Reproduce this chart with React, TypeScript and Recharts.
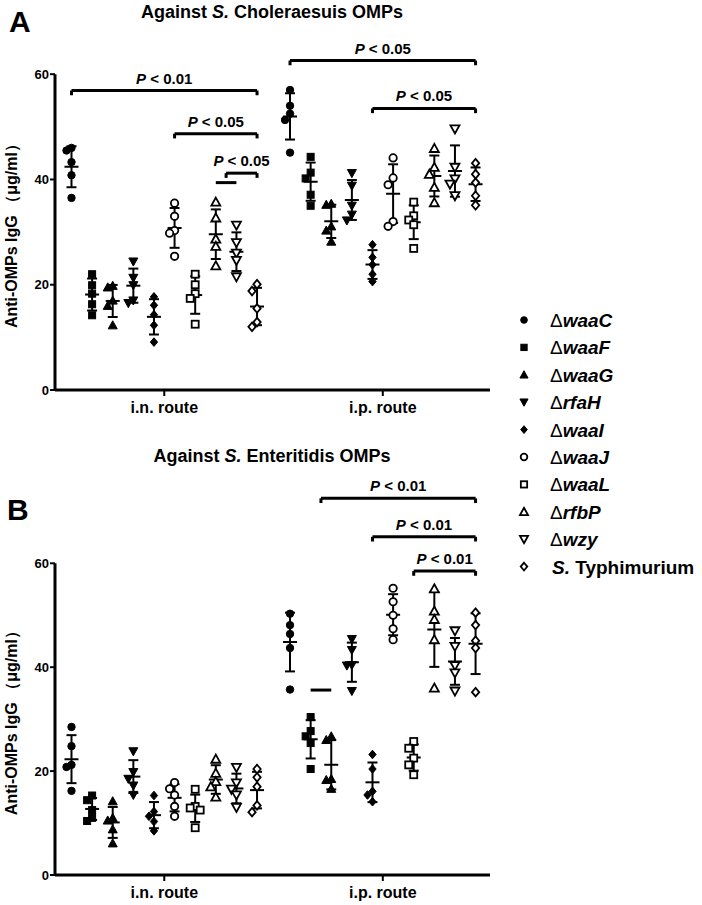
import React from "react";
import { ScatterChart, Scatter, XAxis, YAxis, ErrorBar, ReferenceLine } from "recharts";

const FONT = '"Liberation Sans", Arial, Helvetica, sans-serif';

const strains = ["waaC", "waaF", "waaG", "rfaH", "waaI", "waaJ", "waaL", "rfbP", "wzy", "Typhimurium"];
const routes = ["i.n. route", "i.p. route"];
const serovars = ["Choleraesuis", "Enteritidis"];

// A: anti-OMPs IgG against S. Choleraesuis OMPs (ug/ml), 5 mice per group
const cholIn = [
  [46.0, 45.5, 43.3, 40.8, 36.5],
  [22.0, 19.9, 18.3, 16.3, 14.2],
  [19.8, 19.5, 17.0, 16.0, 12.3],
  [24.4, 21.3, 19.9, 17.0, 16.5],
  [17.7, 16.1, 14.3, 12.3, 9.1],
  [35.5, 33.0, 30.3, 29.8, 25.4],
  [22.0, 20.0, 18.3, 17.4, 12.5],
  [35.7, 32.7, 28.7, 27.3, 23.6],
  [31.3, 28.0, 26.0, 24.6, 21.5],
  [20.1, 18.8, 15.5, 12.9, 12.0],
];
const cholIp = [
  [57.0, 54.0, 52.5, 51.3, 45.1],
  [44.3, 41.3, 40.2, 37.1, 35.0],
  [35.4, 35.2, 31.1, 30.3, 28.2],
  [41.2, 38.8, 35.0, 33.3, 32.2],
  [27.6, 25.2, 23.8, 22.0, 20.6],
  [44.1, 40.3, 39.0, 32.0, 31.1],
  [35.7, 33.1, 32.3, 31.4, 26.9],
  [45.9, 42.3, 41.0, 38.5, 35.6],
  [49.6, 42.3, 40.1, 39.1, 36.9],
  [43.1, 41.0, 39.4, 36.9, 35.1],
];

// B: against S. Enteritidis OMPs
const enterIn = [
  [28.5, 24.8, 21.2, 20.8, 16.2],
  [15.3, 14.4, 12.5, 11.0, 10.4],
  [14.2, 11.0, 10.5, 8.8, 6.1],
  [23.8, 19.8, 18.5, 17.2, 15.4],
  [15.3, 12.2, 11.3, 10.3, 8.5],
  [17.8, 16.6, 15.4, 13.2, 11.3],
  [16.5, 13.2, 12.9, 12.5, 9.1],
  [22.3, 19.6, 18.0, 17.0, 15.0],
  [20.7, 17.7, 16.5, 15.4, 13.0],
  [20.4, 18.8, 17.0, 13.4, 12.1],
];
const enterIp = [
  [50.3, 48.1, 46.4, 43.7, 35.7],
  [30.4, 27.7, 26.7, 25.4, 20.4],
  [26.7, 26.0, 18.5, 18.3, 16.6],
  [45.4, 43.3, 40.4, 40.3, 35.4],
  [23.2, 20.4, 16.1, 15.4, 14.1],
  [55.2, 52.6, 50.0, 47.4, 45.3],
  [25.7, 24.4, 22.5, 21.2, 19.3],
  [55.1, 50.8, 49.2, 45.3, 36.0],
  [47.0, 44.0, 40.3, 38.9, 35.4],
  [50.5, 48.1, 45.1, 43.7, 35.2],
];

// significance brackets: group index from/to within a route, height in ug/ml
const cholBrackets = [
  { route: 0, from: 0, to: 9, y: 56.9, p: "0.01" },
  { route: 0, from: 5, to: 9, y: 48.7, p: "0.05" },
  { route: 0, from: 7.5, to: 9, y: 41.2, p: "0.05" },
  { route: 1, from: 0, to: 9, y: 62.6, p: "0.05" },
  { route: 1, from: 4, to: 9, y: 53.5, p: "0.05" },
];
const cholBars = [{ route: 0, from: 7, to: 8, y: 39.4 }];
const enterBrackets = [
  { route: 1, from: 1.5, to: 9, y: 72.5, p: "0.01" },
  { route: 1, from: 4, to: 9, y: 65.1, p: "0.01" },
  { route: 1, from: 6, to: 9, y: 58.5, p: "0.01" },
];
const enterBars = [{ route: 1, from: 1, to: 2, y: 35.6 }];

const kinds = ["circle", "square", "up", "down", "diamond"];

const xPos = (route: number, i: number) => (route === 0 ? 1 : 11.6) + i;
const mean = (a: number[]) => a.reduce((s, v) => s + v, 0) / a.length;
const sdev = (a: number[]) => {
  const m = mean(a);
  return Math.sqrt(a.reduce((s, v) => s + (v - m) ** 2, 0) / (a.length - 1));
};

// push overlapping points sideways, like a dot plot does
function spreadOffsets(vals: number[]) {
  const order = vals.map((_, i) => i).sort((a, b) => vals[b] - vals[a]);
  const offs = vals.map(() => 0);
  const placed: { y: number; o: number }[] = [];
  order.forEach((i) => {
    const y = vals[i] * 5.2;
    const o =
      [0, -5, 5, -9, 9].find((c) =>
        placed.every((p) => Math.abs(p.o - c) >= 5 || Math.abs(p.y - y) >= 7)
      ) ?? 0;
    offs[i] = o;
    placed.push({ y, o });
  });
  return offs;
}

function Marker({ kind, filled, cx, cy, scale = 1 }: any) {
  const common = { fill: filled ? "#000" : "#fff", stroke: "#000", strokeWidth: filled ? 1 : 1.8 };
  const k = scale;
  if (kind === "circle") return <circle cx={cx} cy={cy} r={3.7 * k} {...common} />;
  if (kind === "square") {
    const h = 3.5 * k;
    return <rect x={cx - h} y={cy - h} width={2 * h} height={2 * h} {...common} />;
  }
  if (kind === "up") {
    const h = 4.5 * k;
    return <polygon points={`${cx},${cy - h} ${cx + h},${cy + h * 0.8} ${cx - h},${cy + h * 0.8}`} {...common} />;
  }
  if (kind === "down") {
    const h = 4.5 * k;
    return <polygon points={`${cx},${cy + h} ${cx + h},${cy - h * 0.8} ${cx - h},${cy - h * 0.8}`} {...common} />;
  }
  const h = 4.3 * k;
  return <polygon points={`${cx},${cy - h} ${cx + h * 0.85},${cy} ${cx},${cy + h} ${cx - h * 0.85},${cy}`} {...common} />;
}

const PLabel = (props: any) => {
  const vb = props.viewBox || {};
  return (
    <text
      x={vb.x + (vb.width || 0) / 2}
      y={vb.y - 7}
      textAnchor="middle"
      fontSize={15}
      fontWeight="bold"
      fontFamily={FONT}
      fill="#000"
    >
      <tspan fontStyle="italic">P</tspan> {"< " + props.p}
    </text>
  );
};

const YLabel = (props: any) => {
  const vb = props.viewBox || {};
  const cy = vb.y + vb.height / 2;
  return (
    <text
      x={12}
      y={cy}
      transform={`rotate(-90, 12, ${cy})`}
      textAnchor="middle"
      dominantBaseline="central"
      fontSize={16}
      fontWeight="bold"
      fontFamily={FONT}
      fill="#000"
    >
      Anti-OMPs IgG （μg/ml）
    </text>
  );
};

function Panel({ sets, brackets, bars, top, height, marginTop }: any) {
  const meanData = sets.flatMap((set: number[][], r: number) =>
    set.map((vals, i) => ({ x: xPos(r, i), y: mean(vals), sd: sdev(vals) }))
  );
  const refs: any[] = [];
  brackets.forEach((b: any, j: number) => {
    const x1 = xPos(b.route, b.from);
    const x2 = xPos(b.route, b.to);
    refs.push(
      <ReferenceLine key={`b${j}`} segment={[{ x: x1, y: b.y }, { x: x2, y: b.y }]} stroke="#000" strokeWidth={3} ifOverflow="visible" label={<PLabel p={b.p} />} />,
      <ReferenceLine key={`l${j}`} segment={[{ x: x1, y: b.y }, { x: x1, y: b.y - 0.9 }]} stroke="#000" strokeWidth={3} ifOverflow="visible" />,
      <ReferenceLine key={`r${j}`} segment={[{ x: x2, y: b.y }, { x: x2, y: b.y - 0.9 }]} stroke="#000" strokeWidth={3} ifOverflow="visible" />
    );
  });
  bars.forEach((b: any, j: number) => {
    refs.push(
      <ReferenceLine key={`s${j}`} segment={[{ x: xPos(b.route, b.from), y: b.y }, { x: xPos(b.route, b.to), y: b.y }]} stroke="#000" strokeWidth={3} ifOverflow="visible" />
    );
  });

  return (
    <div style={{ position: "absolute", left: 0, top }}>
      <ScatterChart width={702} height={height} margin={{ top: marginTop, right: 212, bottom: 0, left: 0 }}>
        <XAxis
          type="number"
          dataKey="x"
          domain={[0.2, 21.3]}
          ticks={[5.5, 16.1]}
          tickFormatter={(v: number) => routes[v < 11 ? 0 : 1]}
          allowDataOverflow
          height={30}
          axisLine={{ stroke: "#000", strokeWidth: 3 }}
          tickLine={{ stroke: "#000", strokeWidth: 2 }}
          tickSize={6}
          tickMargin={6}
          tick={{ fill: "#000", fontSize: 16, fontWeight: "bold", fontFamily: FONT }}
        />
        <YAxis
          type="number"
          dataKey="y"
          domain={[0, 60]}
          ticks={[0, 20, 40, 60]}
          allowDataOverflow
          width={55}
          axisLine={{ stroke: "#000", strokeWidth: 3 }}
          tickLine={{ stroke: "#000", strokeWidth: 2 }}
          tickSize={5}
          tickMargin={1}
          tick={{ fill: "#000", fontSize: 13, fontWeight: "bold", fontFamily: FONT }}
          label={<YLabel />}
        />
        <Scatter
          data={meanData}
          isAnimationActive={false}
          shape={(p: any) => (
            <line x1={p.cx - 7} x2={p.cx + 7} y1={p.cy} y2={p.cy} stroke="#000" strokeWidth={2} />
          )}
        >
          <ErrorBar dataKey="sd" direction="y" width={5} stroke="#000" strokeWidth={2} isAnimationActive={false} />
        </Scatter>
        {sets.flatMap((set: number[][], r: number) =>
          set.map((vals, i) => {
            const offs = spreadOffsets(vals);
            const data = vals.map((v, k) => ({ x: xPos(r, i), y: v, dx: offs[k] }));
            return (
              <Scatter
                key={`${r}-${i}`}
                data={data}
                isAnimationActive={false}
                shape={(p: any) => (
                  <Marker
                    kind={kinds[i % 5]}
                    filled={i < 5}
                    cx={p.cx + (p.payload?.dx ?? p.dx ?? 0)}
                    cy={p.cy}
                  />
                )}
              />
            );
          })
        )}
        {refs}
      </ScatterChart>
    </div>
  );
}

export default function App() {
  const txt = { fontFamily: FONT, fontWeight: "bold", fill: "#000" } as any;
  return (
    <div style={{ position: "absolute", left: 0, top: 0, width: 702, height: 905, background: "#fff", overflow: "hidden" }}>
      <Panel sets={[cholIn, cholIp]} brackets={cholBrackets} bars={cholBars} top={0} height={420} marginTop={74.2} />
      <Panel sets={[enterIn, enterIp]} brackets={enterBrackets} bars={enterBars} top={436} height={469} marginTop={127.3} />
      <svg width={702} height={905} style={{ position: "absolute", left: 0, top: 0, pointerEvents: "none" }}>
        <text x={9} y={32} fontSize={30} {...txt}>A</text>
        <text x={7} y={520} fontSize={30} {...txt}>B</text>
        {serovars.map((s, k) => (
          <text key={s} x={272} y={k === 0 ? 17.5 : 462} fontSize={18} textAnchor="middle" {...txt}>
            Against <tspan fontStyle="italic">S.</tspan> {s} OMPs
          </text>
        ))}
        {strains.map((s, i) => {
          const cy = 320 + 27.4 * i;
          return (
            <g key={s}>
              <Marker kind={kinds[i % 5]} filled={i < 5} cx={524} cy={cy} scale={0.9} />
              {i < 9 ? (
                <text x={550} y={cy + 7} fontSize={19} {...txt}>
                  <tspan fontWeight="normal">Δ</tspan>
                  <tspan fontStyle="italic">{s}</tspan>
                </text>
              ) : (
                <text x={552} y={cy + 7} fontSize={19} {...txt}>
                  <tspan fontStyle="italic">S.</tspan> {s}
                </text>
              )}
            </g>
          );
        })}
      </svg>
    </div>
  );
}
